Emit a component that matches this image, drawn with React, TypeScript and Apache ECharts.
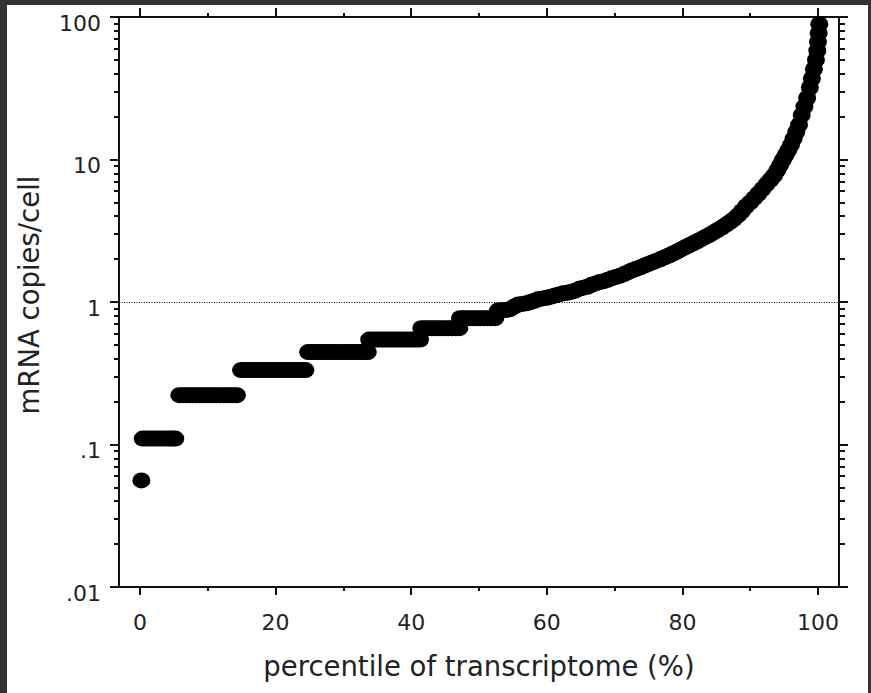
import React, { useEffect, useRef } from "react";
import * as echarts from "echarts";

// ---- Data (percentile of transcriptome, mRNA copies/cell) ----
const lowestPoint: [number, number][] = [[0.2, 0.056]];

const stepRow011: [number, number][] = [
  [0.4, 0.11], [0.9, 0.11], [1.4, 0.11], [1.9, 0.11], [2.4, 0.11], [2.9, 0.11],
  [3.4, 0.11], [3.9, 0.11], [4.4, 0.11], [4.8, 0.11], [5.2, 0.11],
];

const stepRow022: [number, number][] = [
  [5.8, 0.222], [6.3, 0.222], [6.8, 0.222], [7.3, 0.222], [7.8, 0.222], [8.3, 0.222],
  [8.8, 0.222], [9.3, 0.222], [9.8, 0.222], [10.3, 0.222], [10.8, 0.222], [11.3, 0.222],
  [11.8, 0.222], [12.3, 0.222], [12.8, 0.222], [13.3, 0.222], [13.8, 0.222], [14.3, 0.222],
];

const stepRow033: [number, number][] = [
  [14.9, 0.333], [15.4, 0.333], [15.9, 0.333], [16.4, 0.333], [16.9, 0.333], [17.4, 0.333],
  [17.9, 0.333], [18.4, 0.333], [18.9, 0.333], [19.4, 0.333], [19.9, 0.333], [20.4, 0.333],
  [20.9, 0.333], [21.4, 0.333], [21.9, 0.333], [22.4, 0.333], [22.9, 0.333], [23.4, 0.333],
  [23.9, 0.333], [24.4, 0.333],
];

const stepRow044: [number, number][] = [
  [24.8, 0.445], [25.3, 0.445], [25.8, 0.445], [26.3, 0.445], [26.8, 0.445], [27.3, 0.445],
  [27.8, 0.445], [28.3, 0.445], [28.8, 0.445], [29.3, 0.445], [29.8, 0.445], [30.3, 0.445],
  [30.8, 0.445], [31.3, 0.445], [31.8, 0.445], [32.3, 0.445], [32.8, 0.445], [33.3, 0.445],
  [33.6, 0.445],
];

const stepRow055: [number, number][] = [
  [33.8, 0.545], [34.3, 0.545], [34.8, 0.545], [35.3, 0.545], [35.8, 0.545], [36.3, 0.545],
  [36.8, 0.545], [37.3, 0.545], [37.8, 0.545], [38.3, 0.545], [38.8, 0.545], [39.3, 0.545],
  [39.8, 0.545], [40.3, 0.545], [40.8, 0.545], [41.3, 0.545],
];

const stepRow066: [number, number][] = [
  [41.5, 0.655], [42.0, 0.655], [42.5, 0.655], [43.0, 0.655], [43.5, 0.655], [44.0, 0.655],
  [44.5, 0.655], [45.0, 0.655], [45.5, 0.655], [46.0, 0.655], [46.6, 0.655], [47.1, 0.655],
];

const stepRow077: [number, number][] = [
  [47.2, 0.77], [47.7, 0.77], [48.2, 0.77], [48.7, 0.77], [49.2, 0.77], [49.7, 0.77],
  [50.2, 0.77], [50.7, 0.77], [51.2, 0.77], [51.8, 0.77], [52.4, 0.77],
];

const risingCurve: [number, number][] = [
  [52.8, 0.87], [53.4, 0.88], [54.0, 0.88], [54.6, 0.89], [55.2, 0.93], [55.8, 0.96],
  [56.4, 0.97], [57.0, 0.98], [57.6, 1.0], [58.2, 1.02], [58.8, 1.05], [59.4, 1.06],
  [60.0, 1.07], [60.6, 1.09], [61.2, 1.11], [61.8, 1.13], [62.4, 1.15], [63.0, 1.16],
  [63.6, 1.18], [64.2, 1.2], [64.8, 1.24], [65.4, 1.26], [66.0, 1.28], [66.6, 1.32],
  [67.2, 1.35], [67.8, 1.38], [68.4, 1.4], [69.0, 1.43], [69.6, 1.47], [70.2, 1.5],
  [70.8, 1.53], [71.4, 1.57], [72.0, 1.62], [72.6, 1.67], [73.2, 1.71], [73.8, 1.75],
  [74.4, 1.8], [75.0, 1.85], [75.6, 1.9], [76.2, 1.95], [76.8, 2.0], [77.4, 2.06],
  [78.0, 2.12], [78.6, 2.19], [79.2, 2.26], [79.8, 2.34], [80.4, 2.42], [81.0, 2.5],
  [81.6, 2.58], [82.2, 2.67], [82.8, 2.76], [83.4, 2.86], [84.0, 2.96], [84.6, 3.08],
  [85.2, 3.2], [85.8, 3.33], [86.4, 3.48], [87.0, 3.64], [87.6, 3.82], [88.2, 4.05],
  [88.8, 4.35], [89.4, 4.7], [90.0, 5.0], [90.6, 5.35], [91.2, 5.75], [91.8, 6.2],
  [92.4, 6.7], [93.0, 7.2], [93.5, 7.7], [94.0, 8.4], [94.4, 9.1], [94.8, 9.9],
  [95.2, 10.7], [95.6, 11.6], [96.0, 12.6], [96.4, 14.0], [96.8, 15.6], [97.2, 17.5],
  [97.6, 20.5], [98.0, 23.5], [98.4, 27], [98.8, 32], [99.1, 37], [99.4, 43],
  [99.7, 50], [99.9, 58], [100.0, 67], [100.1, 77], [100.2, 89],
];

// ---- Axis tick values ----
const xMajorTicks = [0, 20, 40, 60, 80, 100];
const xMinorTicks = [10, 30, 50, 70, 90];
const yMinorTicks = [
  0.02, 0.03, 0.04, 0.05, 0.06, 0.07, 0.08, 0.09,
  0.2, 0.3, 0.4, 0.5, 0.6, 0.7, 0.8, 0.9,
  2, 3, 4, 5, 6, 7, 8, 9,
  20, 30, 40, 50, 60, 70, 80, 90,
];
const referenceLevel = 1;

const xTitle = "percentile of transcriptome (%)";
const yTitle = "mRNA copies/cell";

const FONT = "DejaVu Sans";
const AXIS_COLOR = "#111";
const TEXT_COLOR = "#222";

export default function App() {
  const ref = useRef<HTMLDivElement>(null);

  useEffect(() => {
    if (!ref.current) return;
    const chart = echarts.init(ref.current, undefined, { renderer: "svg" });

    const allPoints = [
      ...lowestPoint,
      ...stepRow011,
      ...stepRow022,
      ...stepRow033,
      ...stepRow044,
      ...stepRow055,
      ...stepRow066,
      ...stepRow077,
      ...risingCurve,
    ];

    const xBase = {
      type: "value" as const,
      min: -3.1,
      max: 103.1,
      splitLine: { show: false },
    };
    const yBase = {
      type: "log" as const,
      logBase: 10,
      min: 0.01,
      max: 100,
      splitLine: { show: false },
      minorTick: { show: false },
    };
    const lineStyle = { color: AXIS_COLOR, width: 2 };

    const fmtY = (v: number) => {
      const n = Number(v.toPrecision(2));
      return String(n).replace(/^0\./, ".");
    };

    chart.setOption({
      animation: false,
      backgroundColor: "#ffffff",
      grid: { left: 111, right: 29, top: 12, bottom: 106, containLabel: false },
      xAxis: [
        {
          ...xBase,
          position: "bottom",
          axisLine: { show: true, onZero: false, lineStyle },
          axisTick: { show: true, customValues: xMajorTicks, length: 8, lineStyle },
          axisLabel: {
            show: true,
            customValues: xMajorTicks,
            margin: 24,
            fontSize: 22,
            fontFamily: FONT,
            color: TEXT_COLOR,
          },
          name: xTitle,
          nameLocation: "middle",
          nameGap: 65,
          nameTextStyle: { fontSize: 27.5, fontFamily: FONT, color: TEXT_COLOR },
        },
        {
          ...xBase,
          position: "bottom",
          axisLine: { show: false, onZero: false },
          axisTick: { show: true, customValues: xMinorTicks, length: 4, lineStyle },
          axisLabel: { show: false },
        },
        {
          ...xBase,
          position: "top",
          axisLine: { show: true, onZero: false, lineStyle },
          axisTick: { show: true, customValues: xMajorTicks, length: 9, lineStyle },
          axisLabel: { show: false },
        },
        {
          ...xBase,
          position: "top",
          axisLine: { show: false, onZero: false },
          axisTick: { show: true, customValues: xMinorTicks, length: 4, lineStyle },
          axisLabel: { show: false },
        },
      ],
      yAxis: [
        {
          ...yBase,
          position: "left",
          axisLine: { show: true, onZero: false, lineStyle },
          axisTick: { show: true, length: 9, lineStyle },
          axisLabel: {
            show: true,
            formatter: fmtY,
            margin: 18,
            fontSize: 22,
            fontFamily: FONT,
            color: TEXT_COLOR,
            verticalAlign: "top",
            lineHeight: 12,
          },
          name: yTitle,
          nameLocation: "middle",
          nameGap: 76,
          nameTextStyle: {
            fontSize: 27.5,
            fontFamily: FONT,
            color: TEXT_COLOR,
            padding: [0, 0, 0, 14],
          },
        },
        {
          ...yBase,
          position: "left",
          axisLine: { show: false, onZero: false },
          axisTick: { show: true, customValues: yMinorTicks, length: 5, lineStyle },
          axisLabel: { show: false },
        },
        {
          ...yBase,
          position: "right",
          axisLine: { show: true, onZero: false, lineStyle },
          axisTick: { show: true, length: 9, lineStyle },
          axisLabel: { show: false },
        },
        {
          ...yBase,
          position: "right",
          axisLine: { show: false, onZero: false },
          axisTick: { show: true, customValues: yMinorTicks, length: 6, lineStyle },
          axisLabel: { show: false },
        },
      ],
      series: [
        {
          type: "scatter",
          xAxisIndex: 0,
          yAxisIndex: 0,
          data: allPoints,
          symbol: "path://M-1,0A1,1,0,1,0,1,0A1,1,0,1,0,-1,0Z",
          symbolSize: [18, 16],
          itemStyle: { color: "#000000", opacity: 1 },
          silent: true,
          markLine: {
            silent: true,
            symbol: "none",
            label: { show: false },
            lineStyle: { type: [1, 1.5], color: "#000", width: 1 },
            data: [{ yAxis: referenceLevel }],
          },
        },
      ],
    });

    return () => chart.dispose();
  }, []);

  return (
    <div
      style={{
        position: "fixed",
        left: 0,
        top: 0,
        width: 871,
        height: 693,
        background: "#333333",
      }}
    >
      <div
        ref={ref}
        style={{
          position: "absolute",
          left: 7,
          top: 5,
          width: 861,
          height: 688,
          background: "#ffffff",
        }}
      />
    </div>
  );
}
